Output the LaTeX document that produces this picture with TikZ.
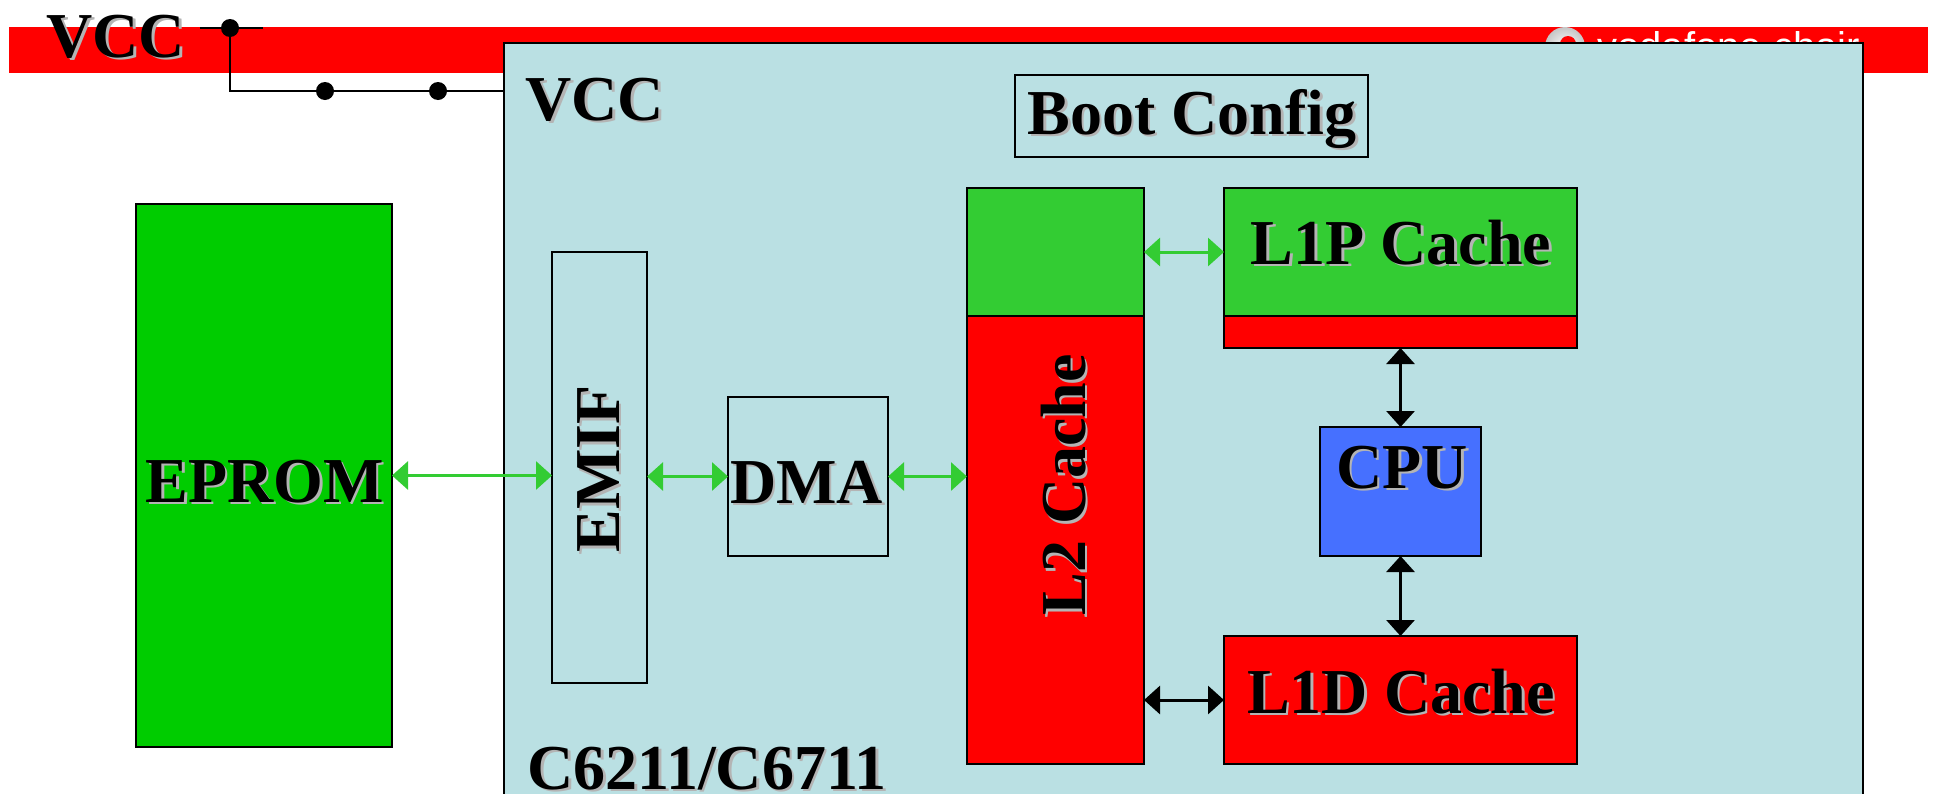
\documentclass[tikz,border=0pt]{standalone}
\usepackage{fontspec}
\setmainfont{Liberation Serif}
\newfontfamily\logofont{Liberation Sans}
\usetikzlibrary{arrows.meta, positioning}

\definecolor{chipblue}{RGB}{186,224,227}
\definecolor{promgreen}{RGB}{0,204,0}
\definecolor{cachegreen}{RGB}{51,204,51}
\definecolor{cachered}{RGB}{255,0,0}
\definecolor{cpublue}{RGB}{70,112,255}
\definecolor{shadowgray}{RGB}{180,180,180}

% label with a grey drop shadow: options, name, position, text
\newcommand{\shlabel}[4]{%
  \node[lbl, #1, text=shadowgray] at ([shift={(1.3pt,-1.3pt)}]#3) {#4};
  \node[lbl, #1] (#2) at (#3) {#4};}

\begin{document}
\begin{tikzpicture}[
    x=0.5pt, y=-0.5pt,
    blk/.style={rectangle, draw=black, line width=1pt, inner sep=0pt,
                outer sep=0pt},
    lbl/.style={inner sep=0pt, font=\fontsize{32}{36}\selectfont\bfseries},
    wire/.style={line width=1pt, black},
    dot/.style={circle, fill=black, inner sep=0pt, minimum size=9pt},
    busarrow/.style={{Triangle[length=8pt,width=14pt]}-{Triangle[length=8pt,width=14pt]},
                     line width=1.5pt},
    greenbus/.style={busarrow, cachegreen},
    blackbus/.style={busarrow, black}
]
\useasboundingbox (0,0) rectangle (1937,793);
\clip (0,0) rectangle (1937,793);

% Title band with logo
\fill[cachered] (9,27) rectangle (1928,73);
\coordinate (logo) at (1565,47);
\shade[inner color=white, outer color=gray!45] (logo) circle (10pt);
\fill[cachered] ([shift={(1.5pt,1.5pt)}]logo) circle (4pt);
\node[anchor=base west, inner sep=0pt, text=white,
      font=\logofont\fontsize{20}{24}\selectfont] (logotext) at (1597,60)
    {vodafone chair};

% Supply line
\shlabel{anchor=base west}{vcctop}{46,57}{VCC}
\coordinate (stubL) at (200,28);
\coordinate (stubR) at (263,28);
\coordinate (tap) at (230,28);
\coordinate (corner) at (230,91);
\coordinate (drop1) at (325,91);
\coordinate (drop2) at (438,91);

% Chip outline
\node[blk, fill=chipblue, line width=1.1pt, minimum width=679.5pt,
      minimum height=398.5pt] (chip) at (1183.5,441.5) {};

\draw[wire] (stubL) -- (stubR);
\draw[wire] (tap) -- (corner) -- (chip.west |- corner);
\node[dot] at (tap) {};
\node[dot] at (drop1) {};
\node[dot] at (drop2) {};

% External memory
\node[blk, fill=promgreen, minimum width=128pt, minimum height=271.5pt]
    (eprom) at (264,475.5) {};

% On-chip blocks
\node[blk, minimum width=176.5pt, minimum height=41pt] (boot) at (1191.5,116) {};
\node[blk, minimum width=47.5pt, minimum height=215.5pt] (emif) at (599.5,467.5) {};
\node[blk, minimum width=80pt, minimum height=79.5pt] (dma) at (808,476.5) {};
\node[blk, fill=cachered, minimum width=88.5pt, minimum height=288pt] (l2) at (1055.5,476) {};
\node[blk, fill=cachegreen, minimum width=88.5pt, minimum height=64pt] (l2top) at (1055.5,252) {};
\node[blk, fill=cachegreen, minimum width=176.5pt, minimum height=64pt] (l1p) at (1400.5,252) {};
\node[blk, fill=cachered, minimum width=176.5pt, minimum height=16pt] (l1pred) at (1400.5,332) {};
\node[blk, fill=cpublue, minimum width=80.5pt, minimum height=64.5pt] (cpu) at (1400.5,491.5) {};
\node[blk, fill=cachered, minimum width=176.5pt, minimum height=64pt] (l1d) at (1400.5,700) {};

% Labels
\shlabel{anchor=base west}{vccchip}{525,120}{VCC}
\shlabel{anchor=base west}{chipname}{527,789}{C6211/C6711}
\shlabel{anchor=base}{bootlbl}{1192,134}{Boot Config}
\shlabel{anchor=base}{epromlbl}{264.5,502}{EPROM}
\shlabel{anchor=base}{dmalbl}{806.5,503}{DMA}
\shlabel{anchor=base}{l1plbl}{1401,264}{L1P Cache}
\shlabel{anchor=base}{cpulbl}{1402,488}{CPU}
\shlabel{anchor=base}{l1dlbl}{1401,713}{L1D Cache}
\shlabel{anchor=base, rotate=90}{emiflbl}{619,469}{EMIF}
\shlabel{anchor=base, rotate=90}{l2lbl}{1085,485}{L2 Cache}

% Buses
\draw[greenbus] (eprom.east) -- (emif.west |- eprom.east);
\draw[greenbus] (emif.east |- dma.west) -- (dma.west);
\draw[greenbus] (dma.east) -- (l2.west |- dma.east);
\draw[greenbus] (l2top.east) -- (l1p.west);
\draw[blackbus] (l1pred.south) -- (cpu.north);
\draw[blackbus] (cpu.south) -- (l1d.north);
\draw[blackbus] (l2.east |- l1d.west) -- (l1d.west);

\end{tikzpicture}
\end{document}
